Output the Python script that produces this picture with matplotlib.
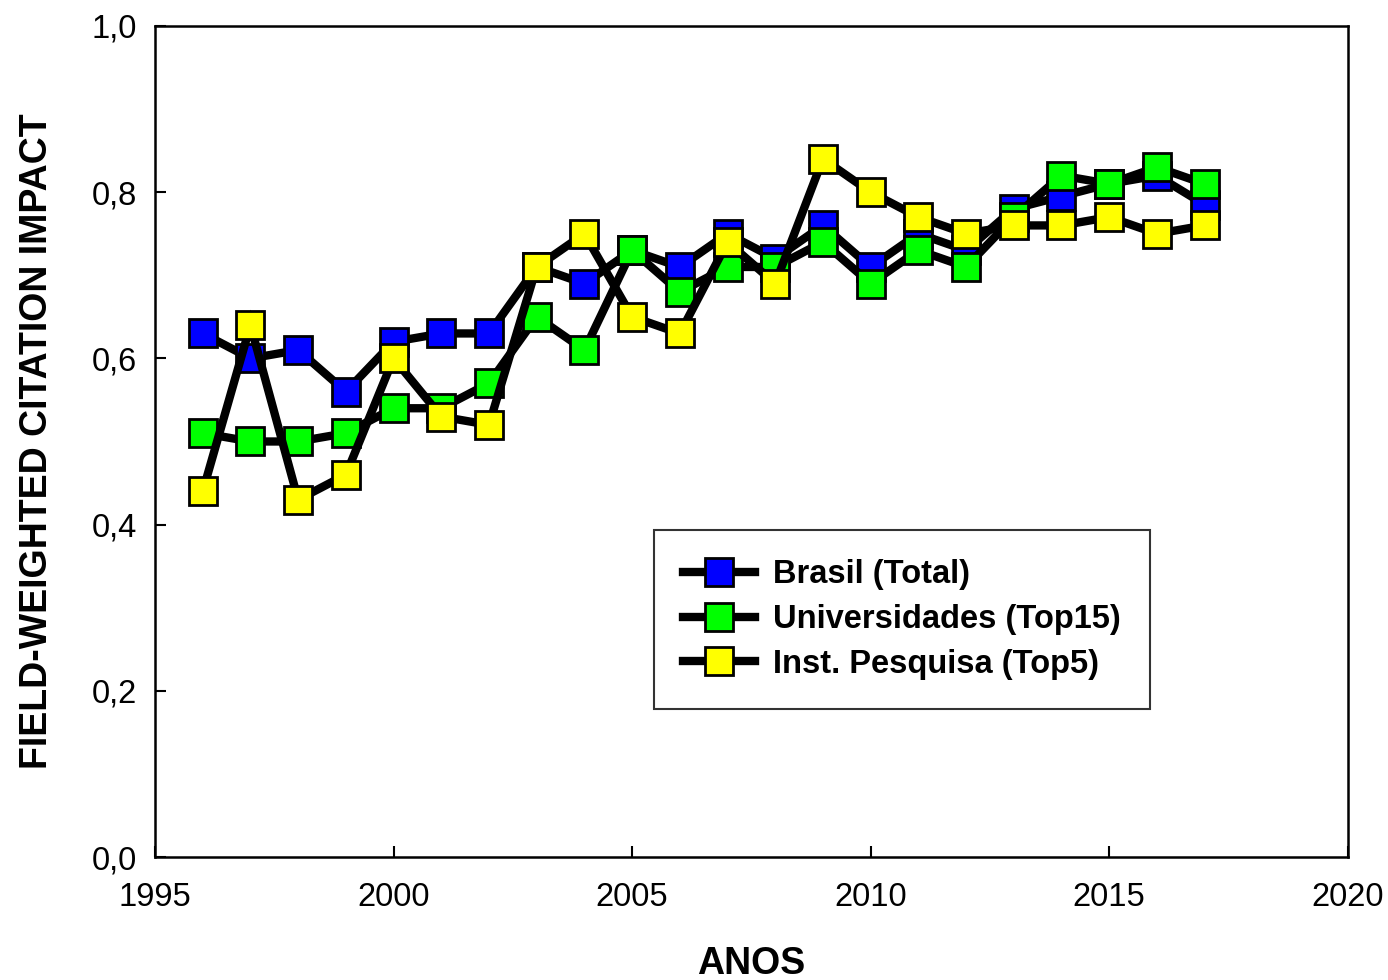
import matplotlib
matplotlib.use("Agg")
from matplotlib import pyplot as plt
from matplotlib.ticker import FuncFormatter

plt.rcParams['font.family'] = ['Liberation Sans', 'DejaVu Sans']

# DATA
anos = list(range(1996, 2018))
brasil = [0.63, 0.60, 0.61, 0.56, 0.62, 0.63, 0.63, 0.71, 0.69, 0.73, 0.71,
          0.75, 0.72, 0.76, 0.71, 0.75, 0.73, 0.78, 0.795, 0.81, 0.82, 0.785]
universidades = [0.51, 0.50, 0.50, 0.51, 0.54, 0.54, 0.57, 0.65, 0.61, 0.73, 0.68,
                 0.71, 0.71, 0.74, 0.69, 0.73, 0.71, 0.77, 0.82, 0.81, 0.83, 0.81]
inst_pesquisa = [0.44, 0.64, 0.43, 0.46, 0.60, 0.53, 0.52, 0.71, 0.75, 0.65, 0.63,
                 0.74, 0.69, 0.84, 0.80, 0.77, 0.75, 0.76, 0.76, 0.77, 0.75, 0.76]
series = [
    ("Brasil (Total)", brasil, "#0000ff"),
    ("Universidades (Top15)", universidades, "#00ff00"),
    ("Inst. Pesquisa (Top5)", inst_pesquisa, "#ffff00"),
]

fig = plt.figure(figsize=(13.88, 9.8), dpi=100)
ax = fig.add_axes([0.1117, 0.1255, 0.8593, 0.848])

for label, values, color in series:
    ax.plot(anos, values, color="black", linewidth=6, marker="s", markersize=20,
            markerfacecolor=color, markeredgecolor="black", markeredgewidth=2,
            label=label, solid_joinstyle="miter")

ax.set_xlim(1995, 2020)
ax.set_ylim(0.0, 1.0)
ax.set_xticks([1995, 2000, 2005, 2010, 2015, 2020])
ax.set_yticks([0.0, 0.2, 0.4, 0.6, 0.8, 1.0])
ax.yaxis.set_major_formatter(FuncFormatter(lambda v, p: f"{v:.1f}".replace(".", ",")))
ax.tick_params(direction="in", length=8, width=1.5, labelsize=23.5,
               top=False, right=False)
ax.tick_params(axis="x", pad=18)
ax.tick_params(axis="y", pad=13)
for s in ax.spines.values():
    s.set_linewidth(1.8)

ax.set_xlabel("ANOS", fontsize=27, fontweight="bold", labelpad=24)
ax.set_ylabel("FIELD-WEIGHTED CITATION IMPACT", fontsize=27, fontweight="bold", labelpad=26)

leg = ax.legend(loc="lower left", bbox_to_anchor=(0.418, 0.178),
                prop={"weight": "bold", "size": 23.5}, frameon=True, fancybox=False,
                edgecolor="black", handlelength=2.2, borderpad=0.9, labelspacing=0.42,
                handletextpad=0.55, borderaxespad=0)
leg.get_frame().set_linewidth(1.5)

fig.savefig("out.png", dpi=100)
